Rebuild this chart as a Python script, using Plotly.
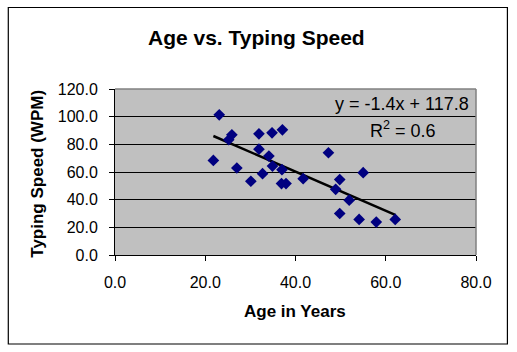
import numpy as np
import plotly.graph_objects as go

# ---- data ----
age = [21.8, 23.1, 25.2, 25.9, 27.0, 30.1, 31.9, 31.9, 32.7, 34.1, 34.8, 34.9, 37.0,
       37.1, 36.9, 37.9, 41.7, 47.3, 48.9, 49.8, 49.8, 51.9, 54.1, 55.0, 57.9, 62.1]
wpm = [68.4, 101.3, 83.3, 86.9, 62.9, 53.3, 87.6, 76.5, 58.8, 71.5, 88.3, 64.3, 61.7,
       90.5, 51.6, 51.6, 55.2, 73.9, 47.5, 54.5, 30.0, 39.6, 25.7, 59.5, 23.8, 25.7]
x_ticks = [0, 20, 40, 60, 80]
y_ticks = [0, 20, 40, 60, 80, 100, 120]
title_text = "Age vs. Typing Speed"
x_title = "Age in Years"
y_title = "Typing Speed (WPM)"
eq_text = "y = -1.4x + 117.8"
r2_text = "R<sup>2</sup> = 0.6"

# trendline via least squares on the data
slope, intercept = np.polyfit(age, wpm, 1)
x_line = [min(age), max(age)]
y_line = [slope * v + intercept for v in x_line]

W, H = 517, 352
L, R, T, B = 114.5, 40.5, 89, 97
PW, PH = W - L - R, H - T - B

def pxx(p):
    return (p - L) / PW

def pxy(p):
    return (H - B - p) / PH

FONT = "Liberation Sans, Arial, sans-serif"

fig = go.Figure()
fig.add_trace(go.Scatter(x=x_line, y=y_line, mode="lines",
                         line=dict(color="black", width=2.5), hoverinfo="skip",
                         showlegend=False))
fig.add_trace(go.Scatter(x=age, y=wpm, mode="markers",
                         marker=dict(symbol="diamond", size=9, color="#000080",
                                     line=dict(width=0)),
                         showlegend=False))

fig.update_layout(
    width=W, height=H,
    margin=dict(l=L, r=R, t=T, b=B, pad=0),
    paper_bgcolor="white", plot_bgcolor="#C0C0C0",
    font=dict(family=FONT, size=16, color="black"),
    showlegend=False,
    xaxis=dict(range=[0, 80], tickvals=x_ticks, tickformat=".1f",
               ticks="outside", ticklen=5, tickcolor="black", tickwidth=1,
               showline=True, linecolor="black", linewidth=1,
               showgrid=False, zeroline=False, ticklabelstandoff=8,
               tickfont=dict(size=16)),
    yaxis=dict(range=[0, 120], tickvals=y_ticks, tickformat=".1f",
               ticks="outside", ticklen=5, tickcolor="black", tickwidth=1,
               showline=True, linecolor="black", linewidth=1,
               showgrid=True, gridcolor="black", gridwidth=1,
               zeroline=False, ticklabelstandoff=8,
               tickfont=dict(size=16)),
)

# gray border of plot area (top and right)
fig.add_shape(type="line", xref="paper", yref="paper", x0=0, x1=1, y0=1, y1=1,
              line=dict(color="#808080", width=1.5), layer="above")
fig.add_shape(type="line", xref="paper", yref="paper", x0=1, x1=1, y0=0, y1=1,
              line=dict(color="#808080", width=1.5), layer="above")
# outer chart border
fig.add_shape(type="rect", xref="paper", yref="paper",
              x0=pxx(7.5), x1=pxx(508), y0=pxy(344), y1=pxy(7.5),
              line=dict(color="black", width=1.2), layer="below")

fig.add_annotation(text=f"<b>{title_text}</b>", xref="paper", yref="paper",
                   x=pxx(256.5), y=pxy(37), showarrow=False,
                   font=dict(size=21), xanchor="center", yanchor="middle")
fig.add_annotation(text=f"<b>{x_title}</b>", xref="paper", yref="paper",
                   x=pxx(294.5), y=pxy(311.5), showarrow=False,
                   font=dict(size=17), xanchor="center", yanchor="middle")
fig.add_annotation(text=f"<b>{y_title}</b>", xref="paper", yref="paper",
                   x=pxx(36), y=pxy(174), showarrow=False, textangle=-90,
                   font=dict(size=17), xanchor="center", yanchor="middle")
fig.add_annotation(text=eq_text, xref="paper", yref="paper",
                   x=pxx(402.5), y=pxy(104), showarrow=False,
                   font=dict(size=18), xanchor="center", yanchor="middle")
fig.add_annotation(text=r2_text, xref="paper", yref="paper",
                   x=pxx(403), y=pxy(129), showarrow=False,
                   font=dict(size=18), xanchor="center", yanchor="middle")

fig.write_html("out.html")
